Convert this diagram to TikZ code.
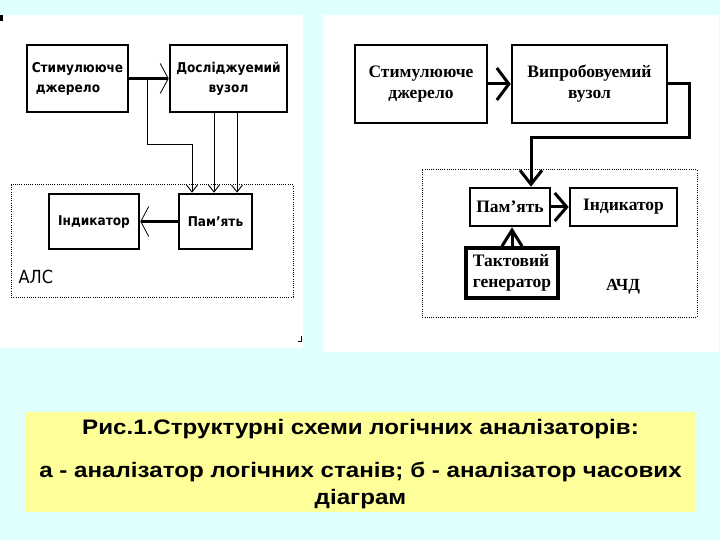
\documentclass[tikz,border=0pt]{standalone}
\usepackage{fontspec}
\setmainfont{Liberation Sans}
\newfontfamily\serfont{Liberation Serif}
\newfontfamily\condfont{DejaVu Sans Condensed}
\newfontfamily\capfont[FakeStretch=1.15]{Liberation Sans}
\usepackage{tikz}
\usetikzlibrary{arrows.meta,positioning,calc}
\definecolor{pagecyan}{HTML}{E0FFFF}
\definecolor{capyellow}{HTML}{FFFF99}
\tikzset{boxA/.style={draw,line width=2.6pt,align=center,font=\condfont\bfseries\fontsize{13.5}{20}\selectfont,inner sep=0pt},
boxB/.style={draw,line width=2.6pt,align=center,font=\serfont\bfseries\fontsize{17.5}{21}\selectfont,inner sep=0pt},
frame/.style={draw,line width=1pt,dash pattern=on 1pt off 1.2pt}}

\begin{document}
\begin{tikzpicture}[x=1pt,y=-1pt,
thinwire/.style={line width=.9pt},
thickwire/.style={line width=2.4pt},
wireB/.style={line width=3pt}]
\useasboundingbox[fill=pagecyan] (0,0) rectangle (720,540);
\fill[white] (0,15) rectangle (303,348);\fill[white] (323,15) rectangle (719,352);
\fill[black] (0,15) rectangle (3,21);\draw[line width=.8pt] (298,341)--(301,341)--(301,336);
% a: logic state analyser
\node[boxA,minimum width=101,minimum height=67,align=left] (stimA) at (77.5,78.5) {Стимулююче\\\hspace*{4pt}джерело};
\node[boxA,minimum width=117,minimum height=67] (dutA) at (228.5,78.5) {Досліджуемий\\вузол};
\node[boxA,minimum width=73,minimum height=55] (memA) at (215.5,221.5) {Пам’ять};
\node[boxA,minimum width=90,minimum height=55] (indA) at (94,221.5) {Індикатор};
\draw[frame] (11,185) rectangle (293,297);
\node[font=\condfont\fontsize{18}{20}\selectfont,anchor=west] (alsA) at (15,277) {АЛС};
\coordinate (tapA) at (147,78.5);
\draw[thickwire,-{Straight Barb[length=8pt,width=30pt,line width=.8pt]}] (stimA.east)--(dutA.west);
\draw[thinwire,-{Straight Barb[length=7pt,width=11pt]}] (tapA)--++(0,65.5)-|(memA.north -| 192,0);
\draw[thinwire,-{Straight Barb[length=7pt,width=11pt]}] (dutA.south -| 214,0)--(memA.north -| 214,0);
\draw[thinwire,-{Straight Barb[length=7pt,width=11pt]}] (dutA.south -| 237,0)--(memA.north -| 237,0);
\draw[thickwire,-{Straight Barb[length=8pt,width=30pt,line width=.8pt]}] (memA.west)--(indA.east);
% b: timing analyser
\node[boxB,minimum width=132,minimum height=78] (stimB) at (421,84) {Стимулююче\\джерело};
\node[boxB,minimum width=155,minimum height=78] (dutB) at (589.5,84) {Випробовуемий\\вузол};
\node[boxB,minimum width=80,minimum height=38] (memB) at (510,207) {Пам’ять};
\node[boxB,minimum width=107,minimum height=38] (indB) at (623.5,207) {Індикатор};
\node[boxB,line width=4pt,minimum width=92,minimum height=50,align=left] (clkB) at (512,273) {Тактовий\\генератор};
\draw[frame] (422,170) rectangle (697,317);
\node[font=\serfont\bfseries\fontsize{17}{19}\selectfont] (achdB) at (623,287) {АЧД};
\draw[wireB,-{Straight Barb[length=12pt,width=32pt]}] (stimB.east)--(dutB.west);
\draw[wireB,-{Straight Barb[length=14pt,width=22pt]}] (dutB.east)-|++(21,54)-|(memB.north -| 531,0);
\draw[wireB,-{Straight Barb[length=12pt,width=28pt]}] (memB.east)--(indB.west);
\draw[wireB,-{Straight Barb[length=16pt,width=20pt]}] (clkB.north)--(memB.south -| clkB.north);
% caption
\fill[capyellow] (25,412) rectangle (696,512);
\node[font=\capfont\bfseries\fontsize{21}{25}\selectfont] (capTitle) at (360.5,429) {Рис.1.Структурні схеми логічних аналізаторів:};
\node[font=\capfont\bfseries\fontsize{21}{27}\selectfont,align=center] (capText) at (360.5,485) {а - аналізатор логічних станів; б - аналізатор часових\\діаграм};
\end{tikzpicture}
\end{document}
